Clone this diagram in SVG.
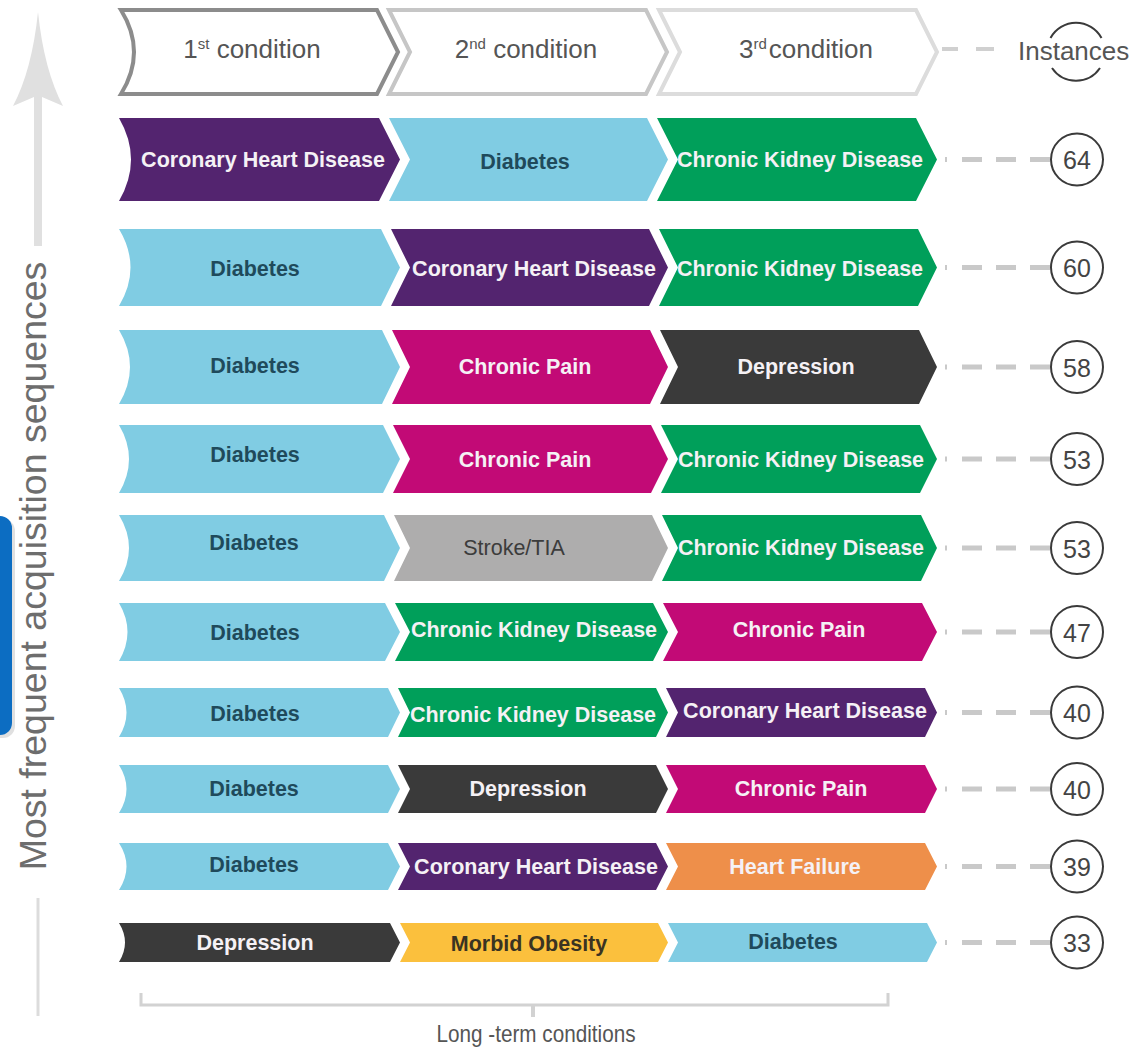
<svg xmlns="http://www.w3.org/2000/svg" width="1132" height="1047" viewBox="0 0 1132 1047">
<style>
  .lbl{font-family:"Liberation Sans",Arial,sans-serif;font-weight:bold;font-size:21.5px;text-anchor:middle;dominant-baseline:central}
  .reg{font-weight:normal}
  .lt{fill:#f5f1f5}
  .dk{fill:#1f4a5b}
  .gy{fill:#3c3c3c}
  .yl{fill:#3a3322}
  .purple{fill:#53246f}
  .blue{fill:#80cce3}
  .green{fill:#009f5a}
  .magenta{fill:#c20a76}
  .dark{fill:#3a3a3a}
  .grey{fill:#aeadad}
  .orange{fill:#ee8f4a}
  .yellow{fill:#fbc03d}
  .hdr{font-family:"Liberation Sans",Arial,sans-serif;font-size:26px;fill:#555;text-anchor:middle}
  .num{font-family:"Liberation Sans",Arial,sans-serif;font-size:25px;fill:#444;text-anchor:middle;dominant-baseline:central}
  .ring{fill:#fff;stroke:#3a3a3a;stroke-width:2}
  .dash{stroke:#c9c9c9;stroke-width:5;stroke-dasharray:2 15 20 14 20 14 20;fill:none}
</style>

<!-- left axis -->
<g id="axis">
  <path d="M38,12 Q32,70 13,106 L34,97 L34,246 L42,246 L42,97 L63,106 Q44,70 38,12 Z" fill="#e0e0e0"/>
  <line x1="38" y1="898" x2="38" y2="1016" stroke="#dcdcdc" stroke-width="3"/>
  <text transform="translate(46,566) rotate(-90)" font-family="'Liberation Sans',Arial,sans-serif" font-size="37.5" fill="#6d6d6d" text-anchor="middle">Most frequent acquisition sequences</text>
</g>
<g id="bluebox">
  <rect x="-14" y="519" width="29" height="219" rx="12" fill="#000" opacity="0.12"/>
  <rect x="-14" y="516" width="26" height="219" rx="12" fill="#0c6dc2"/>
</g>

<!-- header -->
<g id="header-1">
  <path d="M121,10 L377,10 L398,52 L377,94 L121,94 Q147,52 121,10 Z" fill="#fff" stroke="#8c8c8c" stroke-width="4" stroke-linejoin="miter"/>
  <text class="hdr" x="252" y="58">1<tspan font-size="15" dy="-9">st</tspan><tspan dy="9"> condition</tspan></text>
</g>
<g id="header-2">
  <path d="M389,10 L646,10 L667,52 L646,94 L389,94 L410,52 Z" fill="#fff" stroke="#c6c6c6" stroke-width="4"/>
  <text class="hdr" x="526" y="58">2<tspan font-size="15" dy="-9">nd</tspan><tspan dy="9"> condition</tspan></text>
</g>
<g id="header-3">
  <path d="M659,10 L916,10 L937,52 L916,94 L659,94 L680,52 Z" fill="#fff" stroke="#dcdcdc" stroke-width="4"/>
  <text class="hdr" x="806" y="58">3<tspan font-size="15" dy="-9">rd</tspan><tspan dy="9" dx="2">condition</tspan></text>
</g>
<g id="header-instances">
  <path d="M1050.5,38 A29,29 0 0 1 1101.5,38" fill="none" stroke="#3a3a3a" stroke-width="2"/>
  <path d="M1052,68 A29,29 0 0 0 1100,68" fill="none" stroke="#3a3a3a" stroke-width="2"/>
  <text x="1018" y="60" font-family="'Liberation Sans',Arial,sans-serif" font-size="26" fill="#555">Instances</text>
</g>

<!-- connectors -->
<g id="connectors">
  <line x1="942" y1="49" x2="958" y2="49" stroke="#d0d0d0" stroke-width="4"/>
  <line x1="976" y1="49" x2="994" y2="49" stroke="#d0d0d0" stroke-width="4"/>
  <line class="dash" x1="945" y1="159.5" x2="1051" y2="159.5"/>
  <line class="dash" x1="945" y1="267.5" x2="1051" y2="267.5"/>
  <line class="dash" x1="945" y1="367" x2="1051" y2="367"/>
  <line class="dash" x1="945" y1="459" x2="1051" y2="459"/>
  <line class="dash" x1="945" y1="548" x2="1051" y2="548"/>
  <line class="dash" x1="945" y1="632" x2="1051" y2="632"/>
  <line class="dash" x1="945" y1="712.5" x2="1051" y2="712.5"/>
  <line class="dash" x1="945" y1="789" x2="1051" y2="789"/>
  <line class="dash" x1="945" y1="866.5" x2="1051" y2="866.5"/>
  <line class="dash" x1="945" y1="942.5" x2="1051" y2="942.5"/>
</g>

<!-- row 1 -->
<g id="r1c1"><path class="purple" d="M119,118 L379,118 L400,159.5 L379,201 L119,201 Q143,159.5 119,118 Z"/><text class="lbl lt" x="263" y="160">Coronary Heart Disease</text></g>
<g id="r1c2"><path class="blue" d="M389,118 L647,118 L668,159.5 L647,201 L389,201 L410,159.5 Z"/><text class="lbl dk" x="525" y="162">Diabetes</text></g>
<g id="r1c3"><path class="green" d="M657,118 L916,118 L937,159.5 L916,201 L657,201 L678,159.5 Z"/><text class="lbl lt" x="800" y="160">Chronic Kidney Disease</text></g>
<g id="r1n"><circle class="ring" cx="1077" cy="159.5" r="26"/><text class="num" x="1077" y="160">64</text></g>

<!-- row 2 -->
<g id="r2c1"><path class="blue" d="M119,229 L381,229 L400,267.5 L381,306 L119,306 Q142,267.5 119,229 Z"/><text class="lbl dk" x="255" y="269">Diabetes</text></g>
<g id="r2c2"><path class="purple" d="M391,229 L649,229 L668,267.5 L649,306 L391,306 L410,267.5 Z"/><text class="lbl lt" x="534" y="269">Coronary Heart Disease</text></g>
<g id="r2c3"><path class="green" d="M659,229 L918,229 L937,267.5 L918,306 L659,306 L678,267.5 Z"/><text class="lbl lt" x="800" y="269">Chronic Kidney Disease</text></g>
<g id="r2n"><circle class="ring" cx="1077" cy="267.5" r="26"/><text class="num" x="1077" y="268">60</text></g>

<!-- row 3 -->
<g id="r3c1"><path class="blue" d="M119,330 L382,330 L400,367 L382,404 L119,404 Q141,367 119,330 Z"/><text class="lbl dk" x="255" y="366">Diabetes</text></g>
<g id="r3c2"><path class="magenta" d="M392,330 L650,330 L668,367 L650,404 L392,404 L410,367 Z"/><text class="lbl lt" x="525" y="367">Chronic Pain</text></g>
<g id="r3c3"><path class="dark" d="M660,330 L919,330 L937,367 L919,404 L660,404 L678,367 Z"/><text class="lbl lt" x="796" y="367">Depression</text></g>
<g id="r3n"><circle class="ring" cx="1077" cy="367" r="26"/><text class="num" x="1077" y="367.5">58</text></g>

<!-- row 4 -->
<g id="r4c1"><path class="blue" d="M119,425 L383,425 L400,459 L383,493 L119,493 Q139,459 119,425 Z"/><text class="lbl dk" x="255" y="455">Diabetes</text></g>
<g id="r4c2"><path class="magenta" d="M393,425 L651,425 L668,459 L651,493 L393,493 L410,459 Z"/><text class="lbl lt" x="525" y="460">Chronic Pain</text></g>
<g id="r4c3"><path class="green" d="M661,425 L920,425 L937,459 L920,493 L661,493 L678,459 Z"/><text class="lbl lt" x="801" y="460">Chronic Kidney Disease</text></g>
<g id="r4n"><circle class="ring" cx="1077" cy="459" r="26"/><text class="num" x="1077" y="459.5">53</text></g>

<!-- row 5 -->
<g id="r5c1"><path class="blue" d="M119,515 L384,515 L400,548 L384,581 L119,581 Q139,548 119,515 Z"/><text class="lbl dk" x="254" y="543">Diabetes</text></g>
<g id="r5c2"><path class="grey" d="M394,515 L652,515 L668,548 L652,581 L394,581 L410,548 Z"/><text class="lbl reg gy" x="514" y="548">Stroke/TIA</text></g>
<g id="r5c3"><path class="green" d="M662,515 L921,515 L937,548 L921,581 L662,581 L678,548 Z"/><text class="lbl lt" x="801" y="548">Chronic Kidney Disease</text></g>
<g id="r5n"><circle class="ring" cx="1077" cy="548" r="26"/><text class="num" x="1077" y="548.5">53</text></g>

<!-- row 6 -->
<g id="r6c1"><path class="blue" d="M119,603 L385,603 L400,632 L385,661 L119,661 Q136,632 119,603 Z"/><text class="lbl dk" x="255" y="633">Diabetes</text></g>
<g id="r6c2"><path class="green" d="M395,603 L653,603 L668,632 L653,661 L395,661 L410,632 Z"/><text class="lbl lt" x="534" y="630">Chronic Kidney Disease</text></g>
<g id="r6c3"><path class="magenta" d="M663,603 L922,603 L937,632 L922,661 L663,661 L678,632 Z"/><text class="lbl lt" x="799" y="630">Chronic Pain</text></g>
<g id="r6n"><circle class="ring" cx="1077" cy="632" r="26"/><text class="num" x="1077" y="632.5">47</text></g>

<!-- row 7 -->
<g id="r7c1"><path class="blue" d="M119,688 L388,688 L400,712.5 L388,737 L119,737 Q134,712.5 119,688 Z"/><text class="lbl dk" x="255" y="714">Diabetes</text></g>
<g id="r7c2"><path class="green" d="M398,688 L656,688 L668,712.5 L656,737 L398,737 L410,712.5 Z"/><text class="lbl lt" x="533" y="715">Chronic Kidney Disease</text></g>
<g id="r7c3"><path class="purple" d="M666,688 L925,688 L937,712.5 L925,737 L666,737 L678,712.5 Z"/><text class="lbl lt" x="805" y="711">Coronary Heart Disease</text></g>
<g id="r7n"><circle class="ring" cx="1077" cy="712.5" r="26"/><text class="num" x="1077" y="713">40</text></g>

<!-- row 8 -->
<g id="r8c1"><path class="blue" d="M119,765 L388,765 L400,789 L388,813 L119,813 Q134,789 119,765 Z"/><text class="lbl dk" x="254" y="789">Diabetes</text></g>
<g id="r8c2"><path class="dark" d="M398,765 L656,765 L668,789 L656,813 L398,813 L410,789 Z"/><text class="lbl lt" x="528" y="789">Depression</text></g>
<g id="r8c3"><path class="magenta" d="M666,765 L925,765 L937,789 L925,813 L666,813 L678,789 Z"/><text class="lbl lt" x="801" y="789">Chronic Pain</text></g>
<g id="r8n"><circle class="ring" cx="1077" cy="789" r="26"/><text class="num" x="1077" y="789.5">40</text></g>

<!-- row 9 -->
<g id="r9c1"><path class="blue" d="M119,843 L388,843 L400,866.5 L388,890 L119,890 Q134,866.5 119,843 Z"/><text class="lbl dk" x="254" y="865">Diabetes</text></g>
<g id="r9c2"><path class="purple" d="M398,843 L656,843 L668,866.5 L656,890 L398,890 L410,866.5 Z"/><text class="lbl lt" x="536" y="867">Coronary Heart Disease</text></g>
<g id="r9c3"><path class="orange" d="M666,843 L925,843 L937,866.5 L925,890 L666,890 L678,866.5 Z"/><text class="lbl lt" x="795" y="867">Heart Failure</text></g>
<g id="r9n"><circle class="ring" cx="1077" cy="866.5" r="26"/><text class="num" x="1077" y="867">39</text></g>

<!-- row 10 -->
<g id="r10c1"><path class="dark" d="M119,923 L390,923 L400,942.5 L390,962 L119,962 Q131,942.5 119,923 Z"/><text class="lbl lt" x="255" y="943">Depression</text></g>
<g id="r10c2"><path class="yellow" d="M400,923 L658,923 L668,942.5 L658,962 L400,962 L410,942.5 Z"/><text class="lbl yl" x="529" y="944">Morbid Obesity</text></g>
<g id="r10c3"><path class="blue" d="M668,923 L927,923 L937,942.5 L927,962 L668,962 L678,942.5 Z"/><text class="lbl dk" x="793" y="942">Diabetes</text></g>
<g id="r10n"><circle class="ring" cx="1077" cy="942.5" r="26"/><text class="num" x="1077" y="943">33</text></g>

<!-- bottom bracket -->
<g id="bracket">
  <path d="M141,993 L141,1005 L888,1005 L888,993" fill="none" stroke="#d2d2d2" stroke-width="3"/>
  <line x1="533" y1="1005" x2="533" y2="1017" stroke="#d2d2d2" stroke-width="4"/>
  <text x="536" y="1042" font-family="'Liberation Sans',Arial,sans-serif" font-size="24" fill="#555" text-anchor="middle" textLength="199" lengthAdjust="spacingAndGlyphs">Long -term conditions</text>
</g>
</svg>
